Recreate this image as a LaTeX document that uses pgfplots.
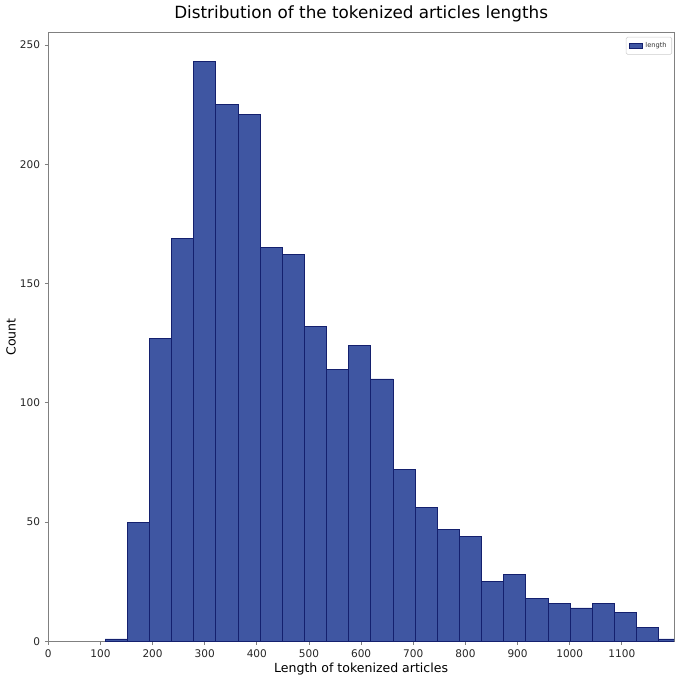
\documentclass[border=0pt]{standalone}
\usepackage{fontspec}
\setmainfont{DejaVu Sans}
\usepackage{pgfplots}
\pgfplotsset{compat=1.18}
\definecolor{barfill}{HTML}{3F56A2}
\definecolor{baredge}{HTML}{14206E}
\definecolor{spine}{HTML}{808080}

\begin{document}
\begin{tikzpicture}
	\begin{axis}[
			scale only axis,
			width=469.3pt,
			height=456.5pt,
			xmin=0, xmax=1200,
			ymin=0, ymax=255.15,
			xtick={0,100,...,1100},
			ytick={0,50,...,250},
			tick align=outside,
			tick pos=left,
			major tick length=2.6pt,
			axis line style={spine},
			every tick/.style={spine, line width=0.6pt},
			/pgf/number format/assume math mode=true,
			/pgf/number format/1000 sep={},
			ticklabel style={font=\fontsize{7.9}{9}\selectfont, text=black!85},
			title={Distribution of the tokenized articles lengths},
			every axis title shift=0pt,
			title style={at={([yshift=10.3pt]axis description cs:0.5,1)}, anchor=base,
					font=\fontsize{12.6}{15}\selectfont},
			xlabel={Length of tokenized articles},
			ylabel={Count},
			xlabel style={at={([yshift=-23.5pt]axis description cs:0.5,0)}, anchor=base,
					font=\fontsize{9.4}{11}\selectfont},
			ylabel style={at={([xshift=-24.5pt]axis description cs:0,0.5)}, anchor=base,
					rotate=0, font=\fontsize{9.4}{11}\selectfont},
			legend style={at={([xshift=-1.5pt,yshift=-3.2pt]axis description cs:1,1)},
					anchor=north east, draw=black!20, rounded corners=1pt,
					font=\fontsize{5}{6}\selectfont, inner sep=1.8pt,
					text=black!80},
			legend image code/.code={\draw[#1, sharp corners] (0pt,-1.75pt) rectangle (10pt,1.75pt);},
		]
		\addplot[ybar interval, fill=barfill, draw=baredge, line width=0.6pt] coordinates {
			(109.00, 1)
			(151.47, 50)
			(193.94, 127)
			(236.41, 169)
			(278.88, 243)
			(321.35, 225)
			(363.82, 221)
			(406.29, 165)
			(448.76, 162)
			(491.23, 132)
			(533.70, 114)
			(576.17, 124)
			(618.64, 110)
			(661.11, 72)
			(703.58, 56)
			(746.05, 47)
			(788.52, 44)
			(830.99, 25)
			(873.46, 28)
			(915.93, 18)
			(958.40, 16)
			(1000.87, 14)
			(1043.34, 16)
			(1085.81, 12)
			(1128.28, 6)
			(1170.75, 1)
			(1213.22, 1)
		};
		\addlegendentry{length}
		\coordinate (bl) at (rel axis cs:0,0);
		\coordinate (tr) at (rel axis cs:1,1);
	\end{axis}
	\pgfresetboundingbox
	\path ([xshift=-36.2pt,yshift=-29pt]bl) rectangle ([xshift=3pt,yshift=24.5pt]tr);
\end{tikzpicture}
\end{document}
